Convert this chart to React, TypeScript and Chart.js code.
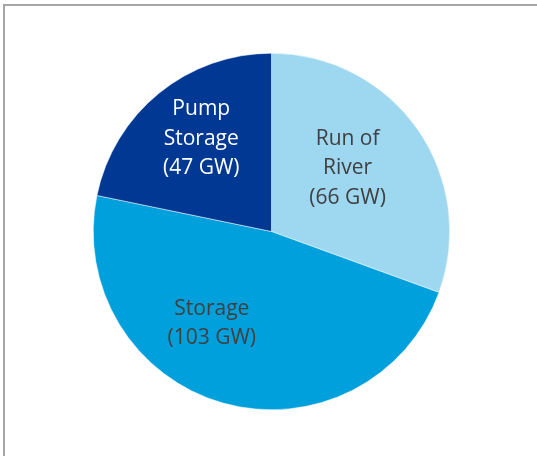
import React, { useEffect, useRef } from "react";
import { Chart, registerables } from "chart.js";

Chart.register(...registerables);

// Data
const categories: string[][] = [["Run of", "River"], ["Storage"], ["Pump", "Storage"]];
const capacityGW: number[] = [66, 103, 47];
const unit = "GW";

// Styles
const sliceColors = ["#9DD7F0", "#00A0DC", "#003893"];
const labelColors = ["#404040", "#404040", "#FFFFFF"];
// label centre offsets as fractions of the radius (x, y)
const labelOffsets: [number, number][] = [
  [0.427, -0.355],
  [-0.335, 0.515],
  [-0.394, -0.52],
];

const labelPlugin = {
  id: "sliceLabels",
  afterDatasetsDraw(chart: any) {
    const ctx = chart.ctx;
    const meta = chart.getDatasetMeta(0);
    const lineH = 29.5;
    ctx.save();
    ctx.font = '21px "Open Sans", sans-serif';
    ctx.textAlign = "center";
    ctx.textBaseline = "middle";
    meta.data.forEach((arc: any, i: number) => {
      const { x, y, outerRadius } = arc.getProps(["x", "y", "outerRadius"], true);
      const lines = [...categories[i], `(${capacityGW[i]} ${unit})`];
      const cx = x + labelOffsets[i][0] * outerRadius;
      const cy = y + labelOffsets[i][1] * outerRadius;
      ctx.fillStyle = labelColors[i];
      const start = cy - ((lines.length - 1) * lineH) / 2;
      lines.forEach((t, k) => ctx.fillText(t, cx, start + k * lineH));
    });
    ctx.restore();
  },
};

export default function App() {
  const ref = useRef<HTMLCanvasElement | null>(null);
  useEffect(() => {
    document.body.style.margin = "0";
    const chart = new Chart(ref.current!, {
      type: "pie",
      data: {
        labels: categories.map((c) => c.join(" ")),
        datasets: [
          {
            data: capacityGW,
            backgroundColor: sliceColors,
            borderColor: "#FFFFFF",
            borderWidth: 0.5,
          },
        ],
      },
      options: {
        responsive: false,
        animation: false,
        layout: { padding: { top: 53, bottom: 46, left: 6, right: 0 } },
        plugins: { legend: { display: false }, tooltip: { enabled: false } },
      },
      plugins: [labelPlugin],
    });
    return () => chart.destroy();
  }, []);
  return (
    <div style={{ position: "relative", width: 537, height: 456, overflow: "hidden", background: "#fff" }}>
      <div
        style={{
          position: "absolute",
          left: 3,
          top: 4,
          width: 534,
          height: 452,
          boxSizing: "border-box",
          borderTop: "2px solid #a6a6a6",
          borderLeft: "2px solid #a6a6a6",
        }}
      />
      <canvas ref={ref} width={537} height={456} style={{ position: "absolute", left: 0, top: 0 }} />
    </div>
  );
}
